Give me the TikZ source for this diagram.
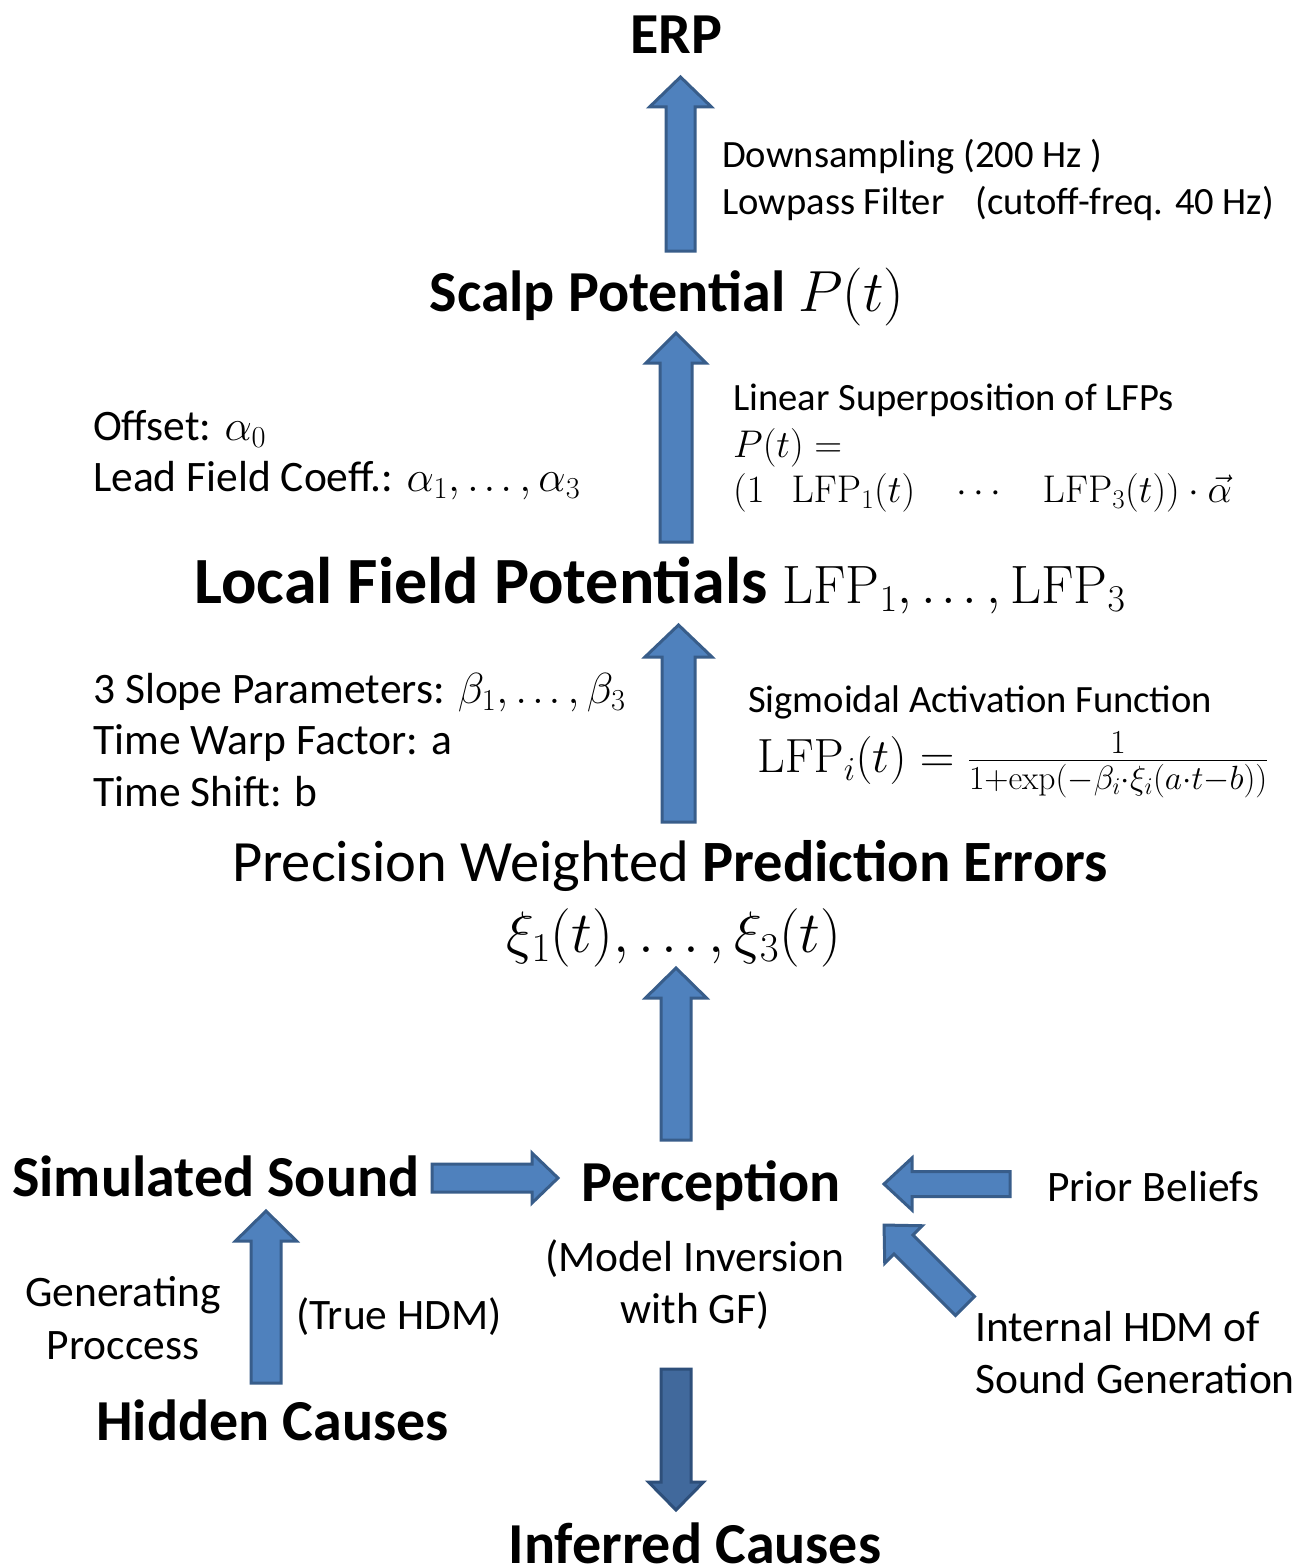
\documentclass[tikz,border=0pt]{standalone}
\usepackage{fix-cm}
\usepackage{amsmath}
\usepackage[no-math]{fontspec}
\setmainfont{Carlito}
\definecolor{arrfill}{HTML}{4F81BD}
\definecolor{arrline}{HTML}{385D8A}
\definecolor{darkfill}{HTML}{41699C}
\definecolor{darkline}{HTML}{2E4F7A}
\newcommand\fs[2]{\fontsize{#1}{#2}\selectfont}
% compact ellipsis for index ranges
\newcommand\cdts{\mathinner{.\mkern2mu.\mkern2mu.}}
% block arrow: [style] tail, angle, length, shaft half width, head half width, head length
\newcommand\blockarrow[7][arrbox]{%
  \begin{scope}[shift={#2},rotate=#3]
    \draw[#1] (0,-#5) -- ({#4-#7},-#5) -- ({#4-#7},-#6) -- (#4,0)
      -- ({#4-#7},#6) -- ({#4-#7},#5) -- (0,#5) -- cycle;
  \end{scope}}
\tikzset{
  arrbox/.style={fill=arrfill,draw=arrline,line width=3pt,line join=miter},
  darkbox/.style={fill=darkfill,draw=darkline,line width=3pt,line join=miter},
  body/.style={font=\fs{38.6}{47},inner sep=0pt,yshift=-10pt},
  lbody/.style={body,anchor=mid west},
  big/.style={font=\fs{43.5}{53},inner sep=0pt,yshift=-11.5pt},
  lbig/.style={big,anchor=mid west},
  cbig/.style={big,anchor=mid},
  title/.style={font=\fs{58}{68}\bfseries,inner sep=0pt,yshift=-16pt},
}
\begin{document}
\begin{tikzpicture}[x=1pt,y=-1pt]
\useasboundingbox (0,0) rectangle (1304,1568);
\fill[white] (0,0) rectangle (1304,1568);

% output chain
\node[title,anchor=mid] (erp) at (676,35) {ERP};
\blockarrow{(680.5,251)}{90}{174}{14.5}{31}{30}
\node[lbody] (ds1) at (722,155) {Downsampling (200 Hz )};
\node[lbody] (ds2) at (722,202) {Lowpass Filter\hspace{0.8em}(cutoff-freq. 40 Hz)};

\node[title,anchor=mid] (scalp) at (667,293) {Scalp Potential $P(t)$};
\blockarrow{(676,542)}{90}{209}{16}{30}{30}
\node[lbig] (off1) at (93,427) {Offset: $\alpha_0$};
\node[lbig] (off2) at (93,478) {Lead Field Coeff.: $\alpha_1,\cdts,\alpha_3$};
\node[lbody] (lin1) at (733,398) {Linear Superposition of LFPs};
\node[lbody] (lin2) at (733,445) {$P(t) =$};
\node[lbody] (lin3) at (733,490)
  {$(1\hspace{0.7em}\mathrm{LFP}_1(t)\hspace{0.9em}\cdots\hspace{0.9em}\mathrm{LFP}_3(t))\cdot\vec{\alpha}$};

\node[title,font=\fs{66}{76}\bfseries,yshift=-2pt,anchor=mid] (lfp) at (660,583)
  {Local Field Potentials {\fs{54}{64}$\mathrm{LFP}_1,\cdts,\mathrm{LFP}_3$}};
\blockarrow{(678.5,822)}{90}{197}{16.5}{33.5}{32}
\node[lbig] (sl1) at (93,690) {3 Slope Parameters: $\beta_1,\cdts,\beta_3$};
\node[lbig] (sl2) at (93,741) {Time Warp Factor: a};
\node[lbig] (sl3) at (93,793) {Time Shift: b};
\node[lbody] (sig1) at (748,700) {Sigmoidal Activation Function};
\node[body,font=\fs{48}{56},yshift=7pt,anchor=west] (sig2) at (757,762)
  {$\mathrm{LFP}_i(t) = \frac{1}{1+\exp\left(-\beta_i\cdot\xi_i(a\cdot t-b)\right)}$};

\node[title,font=\fs{58.5}{68},anchor=mid] (pe1) at (670,863) {Precision Weighted \textbf{Prediction Errors}};
\node[title,font=\fs{58.5}{68},yshift=4pt,anchor=mid] (pe2) at (674,938) {$\xi_1(t),\cdts,\xi_3(t)$};
\blockarrow{(676,1140)}{90}{172}{15}{30.5}{30}

% generative side
\node[title,anchor=mid west] (sim) at (12,1178) {Simulated Sound};
\blockarrow{(432,1178)}{0}{126}{14}{25}{26}
\node[title,anchor=mid] (perc) at (711,1183) {Perception};
\node[cbig] (mi1) at (695,1258) {(Model Inversion};
\node[cbig] (mi2) at (695,1310) {with GF)};
\blockarrow{(1010,1184)}{180}{126}{12.5}{26}{28}
\node[lbig] (prior) at (1047,1188) {Prior Beliefs};
\blockarrow{(965,1306)}{135}{114.5}{13.5}{26.5}{27.5}
\node[lbig] (int1) at (975,1328) {Internal HDM of};
\node[lbig] (int2) at (975,1380) {Sound Generation};

\blockarrow{(266,1383)}{90}{172}{15}{30.5}{30}
\node[cbig] (gen1) at (123,1293) {Generating};
\node[cbig] (gen2) at (123,1346) {Proccess};
\node[lbig] (true) at (296,1316) {(True HDM)};
\node[title,anchor=mid west] (hid) at (96,1422) {Hidden Causes};

\blockarrow[darkbox]{(676,1369)}{-90}{141}{15}{27.5}{28}
\node[title,yshift=16pt,anchor=base] (inf) at (695,1563) {Inferred Causes};
\end{tikzpicture}
\end{document}
